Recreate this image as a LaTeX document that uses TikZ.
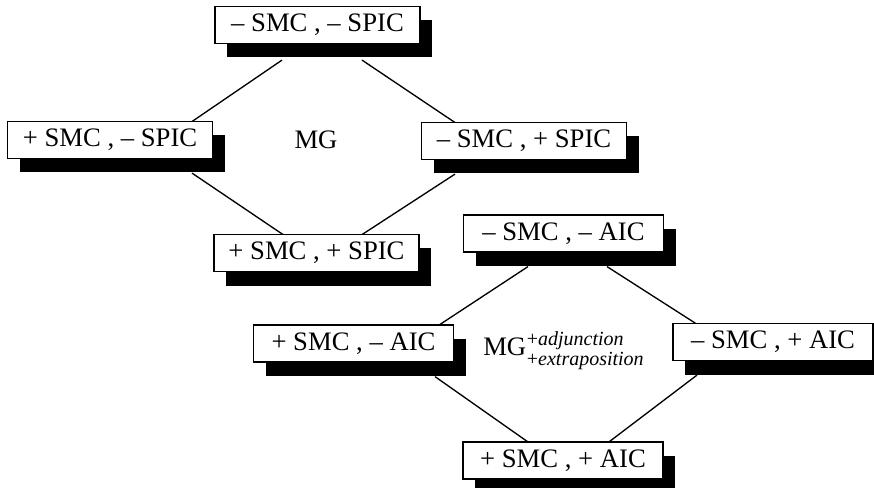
\documentclass[tikz,border=0pt]{standalone}
\usepackage{fontspec}
\setmainfont{Liberation Serif}
\usetikzlibrary{shadows,backgrounds,calc}
\begin{document}
\begin{tikzpicture}[x=0.75pt,y=-0.75pt,
  box/.style={draw, line width=0.9pt, fill=white, minimum height=27.75pt, inner sep=0pt,
    font=\fontsize{20}{24}\selectfont,
    drop shadow={shadow xshift=9pt, shadow yshift=-10.5pt, opacity=1, fill=black}},
  wide/.style={box, minimum width=153.75pt},
  narrow/.style={box, minimum width=150pt},
  edge/.style={line width=1pt},
  lbl/.style={inner sep=0pt, font=\fontsize{20}{24}\selectfont}]
\useasboundingbox (0,0) rectangle (874,488);
% first lattice
\node[wide] (b1) at (317.5,25) {– SMC , – SPIC};
\node[wide] (b2) at (110,140) {+ SMC , – SPIC};
\node[wide] (b3) at (524,141) {– SMC , + SPIC};
\node[wide] (b4) at (316.5,253) {+ SMC , + SPIC};
\node[lbl] (mg1) at (316,140) {MG};
% second lattice
\node[narrow] (b5) at (563.5,233.5) {– SMC , – AIC};
\node[narrow] (b6) at (353.5,343.5) {+ SMC , – AIC};
\node[narrow] (b7) at (773,342) {– SMC , + AIC};
\node[narrow] (b8) at (563,460.5) {+ SMC , + AIC};
\node[lbl, anchor=base west] (mg2) at (483,355) {MG\kern0.5pt\rlap{\raisebox{7.5pt}{\fontsize{15}{15}\selectfont+\textit{adjunction}}}\raisebox{-7.5pt}{\fontsize{15}{15}\selectfont+\textit{extraposition}}};
\begin{scope}[on background layer]
\draw[edge] ($(b1.south)+(-35.5,16)$) -- ($(b2.north)+(80,2)$);
\draw[edge] ($(b1.south)+(44.5,16)$) -- ($(b3.north)+(-67,2)$);
\draw[edge] ($(b2.south)+(82,14)$) -- ($(b4.north)+(-31.5,2)$);
\draw[edge] ($(b3.south)+(-69,14)$) -- ($(b4.north)+(43.5,2)$);
\draw[edge] ($(b5.south)+(-35.5,14)$) -- ($(b6.north)+(83.5,2)$);
\draw[edge] ($(b5.south)+(43.5,14)$) -- ($(b7.north)+(-75,2)$);
\draw[edge] ($(b6.south)+(81.5,14)$) -- ($(b8.north)+(-33,2)$);
\draw[edge] ($(b7.south)+(-76,14)$) -- ($(b8.north)+(44,2)$);
\end{scope}
\end{tikzpicture}
\end{document}
